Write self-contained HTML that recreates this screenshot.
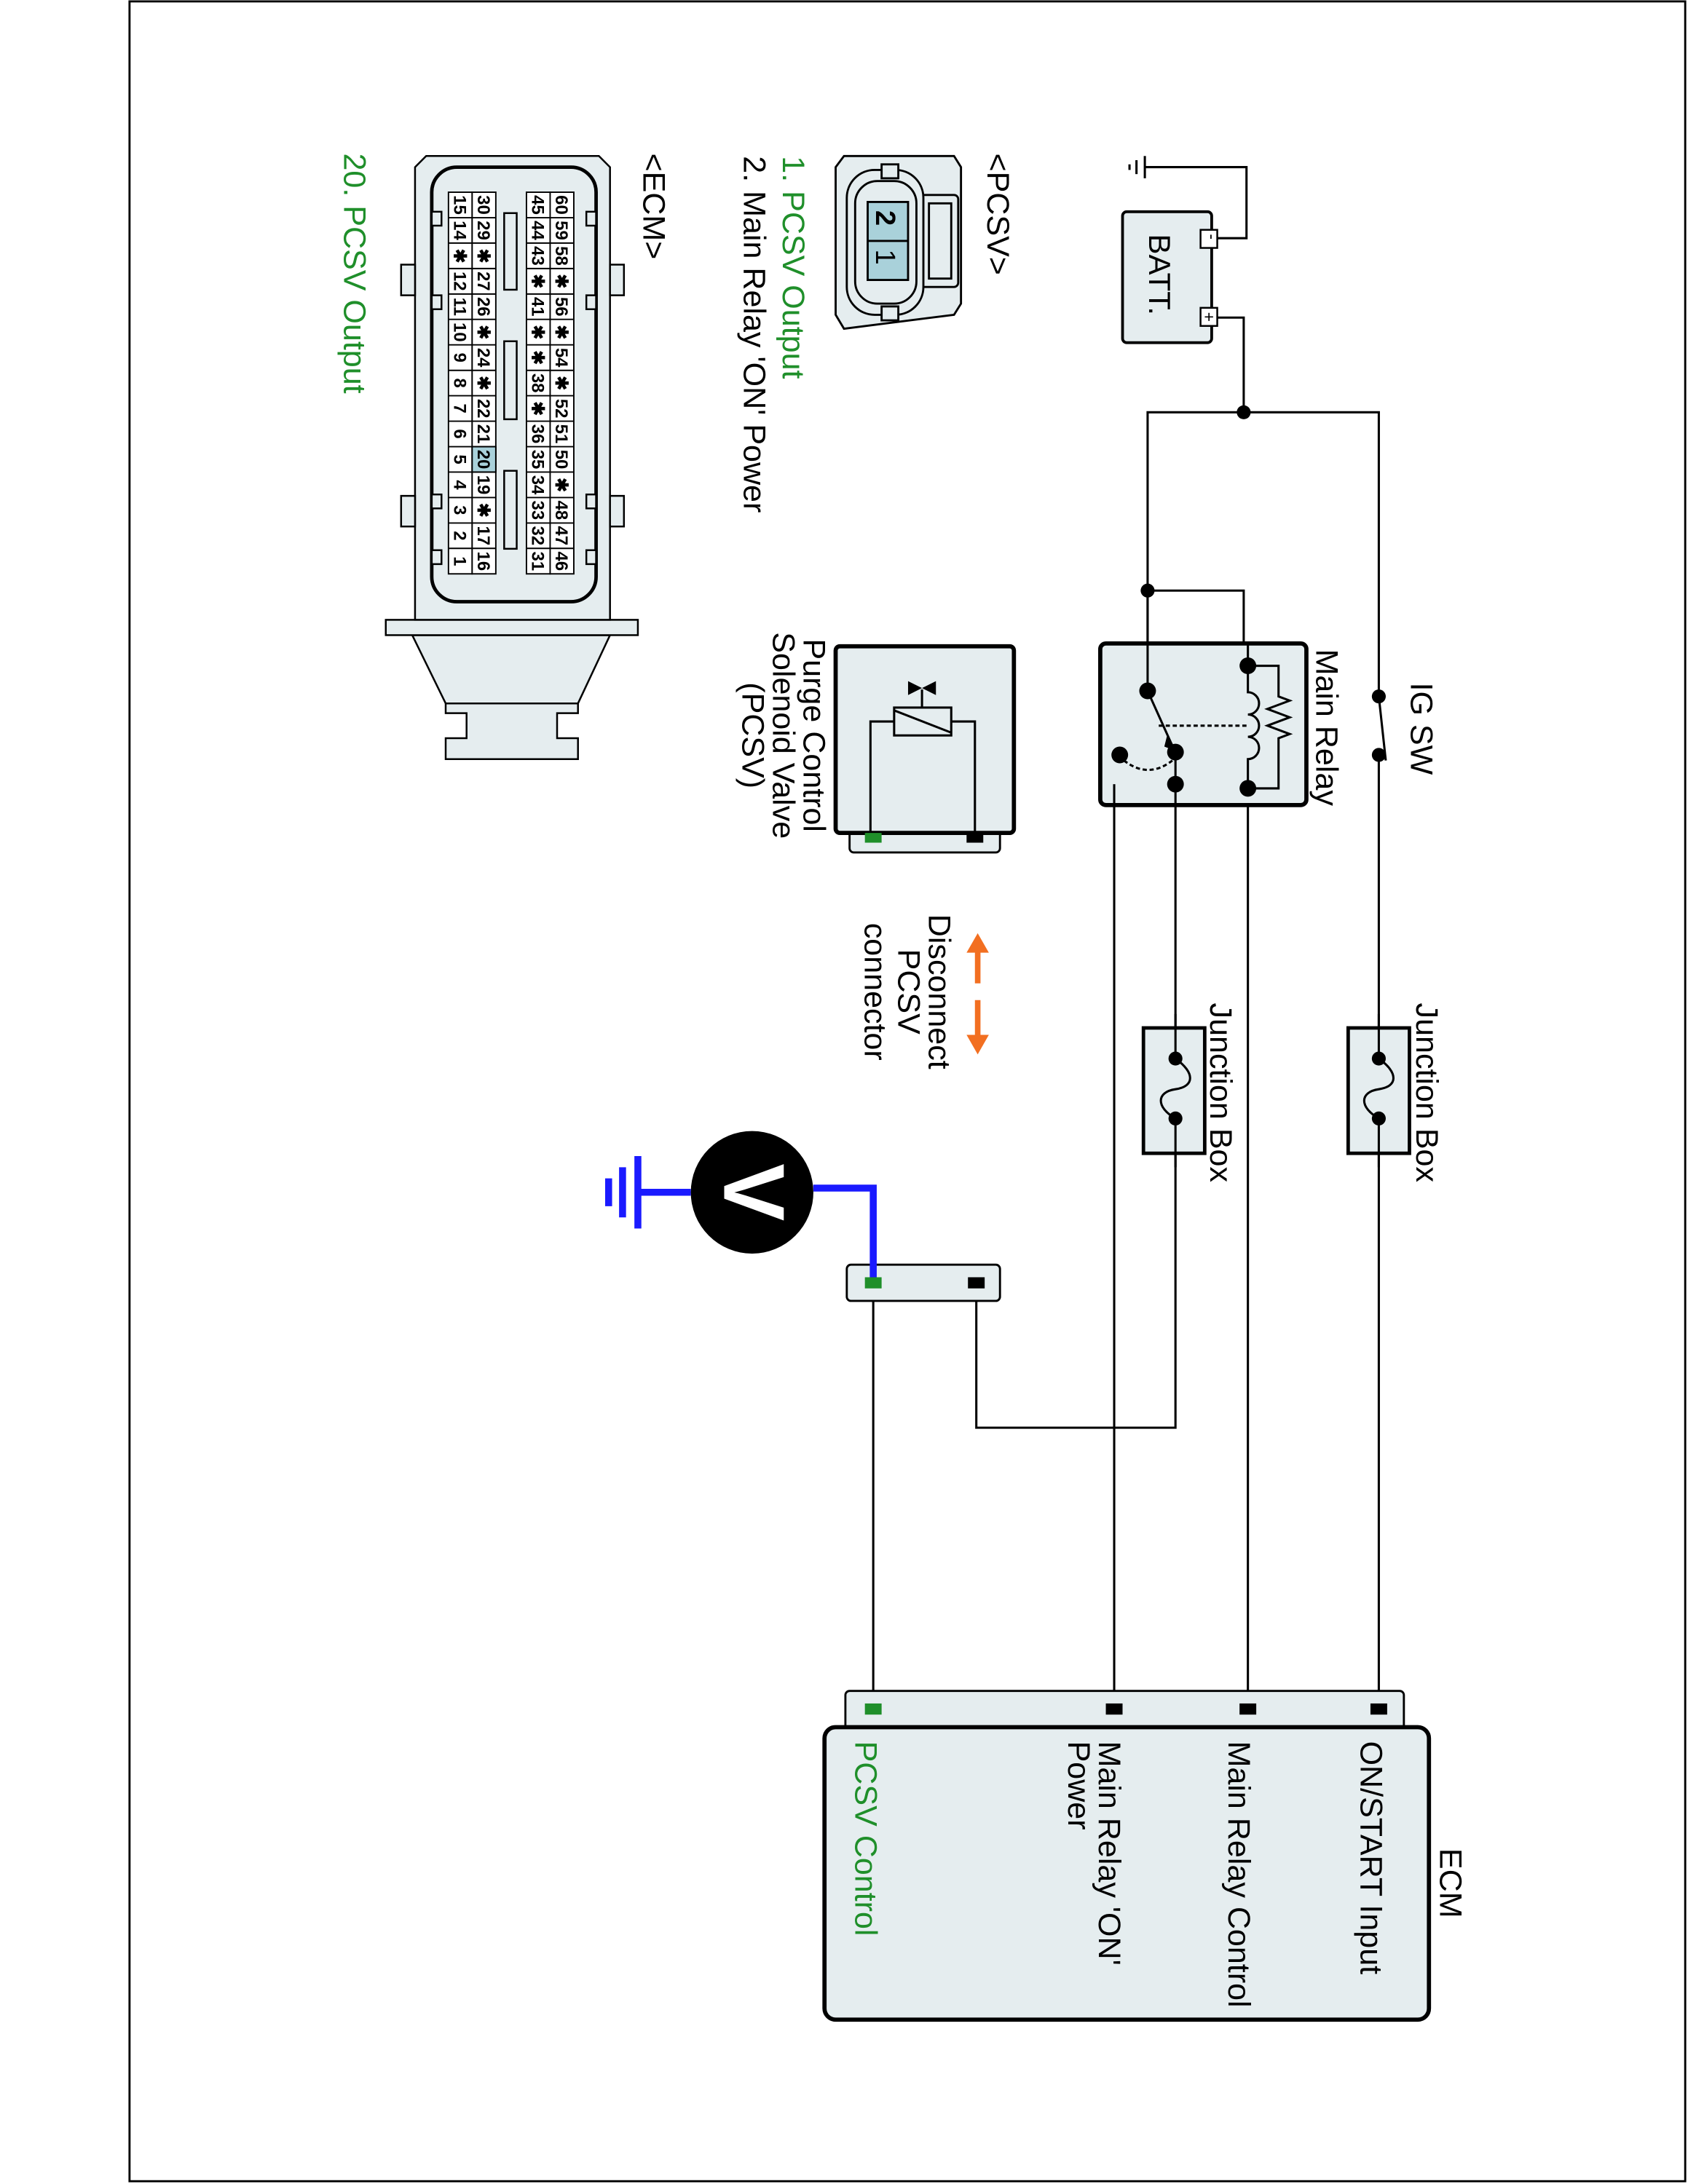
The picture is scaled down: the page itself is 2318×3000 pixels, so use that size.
<!DOCTYPE html>
<html><head><meta charset="utf-8"><style>html,body{margin:0;padding:0;background:#fff}svg{display:block}text{font-family:"Liberation Sans",Arial,sans-serif}</style></head>
<body>
<svg width="2318" height="3000" viewBox="0 0 1212 1568" preserveAspectRatio="none" xmlns="http://www.w3.org/2000/svg">
<rect x="0" y="0" width="1212" height="1568" fill="#fff"/>
<rect x="93" y="1" width="1117" height="1565" fill="none" stroke="#000" stroke-width="1.5"/>

<g stroke="#000" stroke-width="1.6" fill="none">
<polyline points="870,171 895,171 895,120 822,120"/>
<line x1="822" y1="112" x2="822" y2="128"/><line x1="816" y1="115" x2="816" y2="125"/><line x1="811" y1="118" x2="811" y2="122"/>
<polyline points="870,228 893,228 893,296"/>
<polyline points="824,496 824,296 990,296 990,500"/>
<polyline points="824,424 893,424 893,478"/>
<line x1="990" y1="500" x2="995" y2="546"/>
<line x1="990" y1="542" x2="990" y2="1227"/>
<line x1="896" y1="566" x2="896" y2="1227"/>
<polyline points="844,563 800,563 800,1227"/>
<polyline points="844,563 844,1025 701,1025 701,921"/>
<line x1="627" y1="921" x2="627" y2="1227"/>
</g>

<rect x="790" y="462" width="148" height="116" rx="4" fill="#e5edef" stroke="#000" stroke-width="3"/>
<g stroke="#000" stroke-width="1.6" fill="none">
<line x1="824" y1="424" x2="824" y2="496"/>
<line x1="896" y1="462" x2="896" y2="478"/>
<path d="M896,478 L896,497 a8,8 0 0 1 0,16 a8,8 0 0 1 0,16 a8,8 0 0 1 0,16 L896,566"/>
<polyline points="896,478 918,478 918,500 926,503 910,509 926,515 910,521 926,527 918,530 918,566 896,566"/>
<line x1="824" y1="496" x2="842" y2="536"/>
<line x1="832" y1="521" x2="896" y2="521" stroke-dasharray="3,2"/>
<path d="M807,546 Q825,560 843,545" stroke-dasharray="3,2"/>
<line x1="844" y1="540" x2="844" y2="578"/>
<line x1="800" y1="563" x2="800" y2="578"/>
</g>
<polygon points="838,528 846,540 836,536" fill="#000"/>
<g fill="#000">
<circle cx="893" cy="296" r="5"/><circle cx="824" cy="424" r="5"/>
<circle cx="990" cy="500" r="5"/><circle cx="990" cy="542" r="5"/>
<circle cx="896" cy="478" r="6"/><circle cx="896" cy="566" r="6"/>
<circle cx="824" cy="496" r="6"/><circle cx="844" cy="540" r="6"/><circle cx="804" cy="542" r="6"/><circle cx="844" cy="563" r="6"/>
</g>

<rect x="806" y="152" width="64" height="94" rx="3" fill="#e5edef" stroke="#000" stroke-width="2"/>
<rect x="862" y="165" width="12" height="13" fill="#fff" stroke="#000" stroke-width="1.3"/>
<rect x="862" y="221" width="12" height="13" fill="#fff" stroke="#000" stroke-width="1.3"/>
<text transform="translate(866,168) rotate(90)" font-size="12">-</text>
<text transform="translate(864,224) rotate(90)" font-size="12">+</text>
<text transform="translate(825,168) rotate(90)" font-size="22">BATT.</text>

<rect x="968" y="738" width="44" height="90" fill="#e5edef" stroke="#000" stroke-width="2.5"/>
<rect x="821" y="738" width="44" height="90" fill="#e5edef" stroke="#000" stroke-width="2.5"/>
<g stroke="#000" stroke-width="1.6" fill="none">
<line x1="990" y1="728" x2="990" y2="760"/><line x1="990" y1="803" x2="990" y2="838"/>
<path d="M990,760 C1004,770 1004,780 990,782 C976,784 976,795 990,803"/>
<line x1="844" y1="728" x2="844" y2="760"/><line x1="844" y1="803" x2="844" y2="838"/>
<path d="M844,760 C858,770 858,780 844,782 C830,784 830,795 844,803"/>
</g>
<g fill="#000"><circle cx="990" cy="760" r="5"/><circle cx="990" cy="803" r="5"/><circle cx="844" cy="760" r="5"/><circle cx="844" cy="803" r="5"/></g>

<rect x="610" y="594" width="108" height="18" rx="3" fill="#e5edef" stroke="#000" stroke-width="1.5"/>
<rect x="600" y="464" width="128" height="134" rx="3" fill="#e5edef" stroke="#000" stroke-width="3"/>
<g stroke="#000" stroke-width="1.6" fill="none">
<polyline points="625,598 625,518 642,518"/>
<polyline points="683,518 700,518 700,598"/>
<rect x="642" y="508" width="41" height="20"/>
<line x1="642" y1="510" x2="683" y2="526"/>
<line x1="662" y1="508" x2="662" y2="495"/>
</g>
<polygon points="652,489 662,494 672,489 672,499 662,494 652,499" fill="#000"/>
<rect x="621" y="598" width="12" height="7" fill="#1f8f2a"/>
<rect x="694" y="598" width="12" height="7" fill="#000"/>

<rect x="608" y="908" width="110" height="26" rx="3" fill="#e5edef" stroke="#000" stroke-width="1.5"/>
<rect x="621" y="917" width="12" height="8" fill="#1f8f2a"/>
<rect x="695" y="917" width="12" height="8" fill="#000"/>

<g stroke="#1a1aff" stroke-width="5" fill="none">
<polyline points="627,917 627,853 584,853"/>
<line x1="496" y1="856" x2="458" y2="856"/>
<line x1="458" y1="830" x2="458" y2="882"/><line x1="447" y1="838" x2="447" y2="874"/><line x1="437" y1="846" x2="437" y2="866"/>
</g>
<circle cx="540" cy="856" r="44" fill="#000"/>
<text transform="translate(520,856) rotate(90)" font-size="62" font-weight="bold" fill="#fff" text-anchor="middle">V</text>

<g stroke="#f26f21" stroke-width="4" fill="none">
<line x1="702" y1="682" x2="702" y2="706"/><line x1="702" y1="718" x2="702" y2="745"/>
</g>
<polygon points="702,670 694,684 710,684" fill="#f26f21"/>
<polygon points="702,757 694,743 710,743" fill="#f26f21"/>

<rect x="607" y="1214" width="401" height="30" rx="3" fill="#e5edef" stroke="#000" stroke-width="1.5"/>
<rect x="592" y="1240" width="434" height="210" rx="8" fill="#e5edef" stroke="#000" stroke-width="3"/>
<rect x="621" y="1223" width="12" height="8" fill="#1f8f2a"/>
<rect x="794" y="1223" width="12" height="8" fill="#000"/>
<rect x="890" y="1223" width="12" height="8" fill="#000"/>
<rect x="984" y="1223" width="12" height="8" fill="#000"/>

<g font-size="22.5" fill="#000">
<text transform="translate(1013,490) rotate(90)">IG SW</text>
<text transform="translate(945,466) rotate(90)">Main Relay</text>
<text transform="translate(1017,720) rotate(90)">Junction Box</text>
<text transform="translate(869,720) rotate(90)">Junction Box</text>
<text transform="translate(577,528) rotate(90)" text-anchor="middle">Purge Control</text>
<text transform="translate(555,528) rotate(90)" text-anchor="middle">Solenoid Valve</text>
<text transform="translate(533,528) rotate(90)" text-anchor="middle">(PCSV)</text>
<text transform="translate(667,712) rotate(90)" text-anchor="middle">Disconnect</text>
<text transform="translate(645,712) rotate(90)" text-anchor="middle">PCSV</text>
<text transform="translate(621,712) rotate(90)" text-anchor="middle">connector</text>
<text transform="translate(1034,1352) rotate(90)" text-anchor="middle">ECM</text>
<text transform="translate(977,1250) rotate(90)">ON/START Input</text>
<text transform="translate(882,1250) rotate(90)">Main Relay Control</text>
<text transform="translate(789,1250) rotate(90)">Main Relay 'ON'</text>
<text transform="translate(767,1250) rotate(90)">Power</text>
<text transform="translate(614,1250) rotate(90)" fill="#1f8f2a">PCSV Control</text>
<text transform="translate(709,110) rotate(90)">&lt;PCSV&gt;</text>
<text transform="translate(562,112) rotate(90)" fill="#1f8f2a">1. PCSV Output</text>
<text transform="translate(534,112) rotate(90)">2. Main Relay 'ON' Power</text>
<text transform="translate(462,110) rotate(90)">&lt;ECM&gt;</text>
<text transform="translate(247,110) rotate(90)" fill="#1f8f2a">20. PCSV Output</text>
</g>

<g stroke="#000" stroke-width="1.5" fill="#e5edef">
<polygon points="606,112 685,112 690,120 690,218 685,226 606,236 600,226 600,120"/>
<rect x="660" y="140" width="28" height="66" rx="3"/>
<rect x="667" y="146" width="16" height="54"/>
<rect x="608" y="122" width="55" height="104" rx="20"/>
<rect x="614" y="130" width="44" height="88" rx="16"/>
<rect x="633" y="118" width="12" height="10"/>
<rect x="633" y="220" width="12" height="10"/>
<rect x="623" y="145" width="29" height="56" fill="#a9d1da"/>
<line x1="623" y1="173" x2="652" y2="173"/>
</g>
<text transform="translate(629,151) rotate(90)" font-size="20" font-weight="bold">2</text>
<text transform="translate(629,179) rotate(90)" font-size="20">1</text>

<g stroke="#000" stroke-width="1.3" fill="#e5edef">
<polygon points="296,456 438,456 415,505 320,505"/>
<polygon points="320,505 415,505 415,512 400,512 400,530 415,530 415,545 320,545 320,530 335,530 335,512 320,512"/>
<rect x="277" y="445" width="181" height="11"/>
<polygon points="298,120 306,112 430,112 438,120 438,445 298,445"/>
<rect x="288" y="190" width="10" height="22"/><rect x="288" y="356" width="10" height="22"/>
<rect x="438" y="190" width="10" height="22"/><rect x="438" y="356" width="10" height="22"/>
<rect x="310" y="120" width="118" height="312" rx="18" stroke-width="2.5"/>
<rect x="310" y="152" width="7" height="10"/><rect x="310" y="212" width="7" height="10"/><rect x="310" y="355" width="7" height="10"/><rect x="310" y="395" width="7" height="10"/>
<rect x="421" y="152" width="7" height="10"/><rect x="421" y="212" width="7" height="10"/><rect x="421" y="355" width="7" height="10"/><rect x="421" y="395" width="7" height="10"/>
<rect x="362" y="153" width="9" height="55"/><rect x="362" y="245" width="9" height="56"/><rect x="362" y="338" width="9" height="56"/>
</g>
<g stroke="#000" stroke-width="1">
<rect x="322" y="138" width="17" height="274" fill="#fff"/>
<rect x="339" y="138" width="17" height="274" fill="#fff"/>
<rect x="378" y="138" width="17" height="274" fill="#fff"/>
<rect x="395" y="138" width="17" height="274" fill="#fff"/>
<rect x="339" y="320.7" width="17" height="18.2" fill="#a9d1da"/>
<line x1="322" y1="156.3" x2="356" y2="156.3"/><line x1="322" y1="174.5" x2="356" y2="174.5"/><line x1="322" y1="192.8" x2="356" y2="192.8"/><line x1="322" y1="211.1" x2="356" y2="211.1"/><line x1="322" y1="229.3" x2="356" y2="229.3"/><line x1="322" y1="247.6" x2="356" y2="247.6"/><line x1="322" y1="265.9" x2="356" y2="265.9"/><line x1="322" y1="284.1" x2="356" y2="284.1"/><line x1="322" y1="302.4" x2="356" y2="302.4"/><line x1="322" y1="320.7" x2="356" y2="320.7"/><line x1="322" y1="338.9" x2="356" y2="338.9"/><line x1="322" y1="357.2" x2="356" y2="357.2"/><line x1="322" y1="375.5" x2="356" y2="375.5"/><line x1="322" y1="393.7" x2="356" y2="393.7"/>
<line x1="378" y1="156.3" x2="412" y2="156.3"/><line x1="378" y1="174.5" x2="412" y2="174.5"/><line x1="378" y1="192.8" x2="412" y2="192.8"/><line x1="378" y1="211.1" x2="412" y2="211.1"/><line x1="378" y1="229.3" x2="412" y2="229.3"/><line x1="378" y1="247.6" x2="412" y2="247.6"/><line x1="378" y1="265.9" x2="412" y2="265.9"/><line x1="378" y1="284.1" x2="412" y2="284.1"/><line x1="378" y1="302.4" x2="412" y2="302.4"/><line x1="378" y1="320.7" x2="412" y2="320.7"/><line x1="378" y1="338.9" x2="412" y2="338.9"/><line x1="378" y1="357.2" x2="412" y2="357.2"/><line x1="378" y1="375.5" x2="412" y2="375.5"/><line x1="378" y1="393.7" x2="412" y2="393.7"/>
</g>
<g font-size="12.5" font-weight="bold" text-anchor="middle" fill="#000">
<text transform="translate(326,147.1) rotate(90)">15</text><text transform="translate(343,147.1) rotate(90)">30</text><text transform="translate(382,147.1) rotate(90)">45</text><text transform="translate(399,147.1) rotate(90)">60</text>
<text transform="translate(326,165.4) rotate(90)">14</text><text transform="translate(343,165.4) rotate(90)">29</text><text transform="translate(382,165.4) rotate(90)">44</text><text transform="translate(399,165.4) rotate(90)">59</text>
<text transform="translate(326,183.7) rotate(90)">✱</text><text transform="translate(343,183.7) rotate(90)">✱</text><text transform="translate(382,183.7) rotate(90)">43</text><text transform="translate(399,183.7) rotate(90)">58</text>
<text transform="translate(326,201.9) rotate(90)">12</text><text transform="translate(343,201.9) rotate(90)">27</text><text transform="translate(382,201.9) rotate(90)">✱</text><text transform="translate(399,201.9) rotate(90)">✱</text>
<text transform="translate(326,220.2) rotate(90)">11</text><text transform="translate(343,220.2) rotate(90)">26</text><text transform="translate(382,220.2) rotate(90)">41</text><text transform="translate(399,220.2) rotate(90)">56</text>
<text transform="translate(326,238.5) rotate(90)">10</text><text transform="translate(343,238.5) rotate(90)">✱</text><text transform="translate(382,238.5) rotate(90)">✱</text><text transform="translate(399,238.5) rotate(90)">✱</text>
<text transform="translate(326,256.7) rotate(90)">9</text><text transform="translate(343,256.7) rotate(90)">24</text><text transform="translate(382,256.7) rotate(90)">✱</text><text transform="translate(399,256.7) rotate(90)">54</text>
<text transform="translate(326,275) rotate(90)">8</text><text transform="translate(343,275) rotate(90)">✱</text><text transform="translate(382,275) rotate(90)">38</text><text transform="translate(399,275) rotate(90)">✱</text>
<text transform="translate(326,293.3) rotate(90)">7</text><text transform="translate(343,293.3) rotate(90)">22</text><text transform="translate(382,293.3) rotate(90)">✱</text><text transform="translate(399,293.3) rotate(90)">52</text>
<text transform="translate(326,311.5) rotate(90)">6</text><text transform="translate(343,311.5) rotate(90)">21</text><text transform="translate(382,311.5) rotate(90)">36</text><text transform="translate(399,311.5) rotate(90)">51</text>
<text transform="translate(326,329.8) rotate(90)">5</text><text transform="translate(343,329.8) rotate(90)">20</text><text transform="translate(382,329.8) rotate(90)">35</text><text transform="translate(399,329.8) rotate(90)">50</text>
<text transform="translate(326,348.1) rotate(90)">4</text><text transform="translate(343,348.1) rotate(90)">19</text><text transform="translate(382,348.1) rotate(90)">34</text><text transform="translate(399,348.1) rotate(90)">✱</text>
<text transform="translate(326,366.3) rotate(90)">3</text><text transform="translate(343,366.3) rotate(90)">✱</text><text transform="translate(382,366.3) rotate(90)">33</text><text transform="translate(399,366.3) rotate(90)">48</text>
<text transform="translate(326,384.6) rotate(90)">2</text><text transform="translate(343,384.6) rotate(90)">17</text><text transform="translate(382,384.6) rotate(90)">32</text><text transform="translate(399,384.6) rotate(90)">47</text>
<text transform="translate(326,402.9) rotate(90)">1</text><text transform="translate(343,402.9) rotate(90)">16</text><text transform="translate(382,402.9) rotate(90)">31</text><text transform="translate(399,402.9) rotate(90)">46</text>
</g>
</svg>
</body></html>
